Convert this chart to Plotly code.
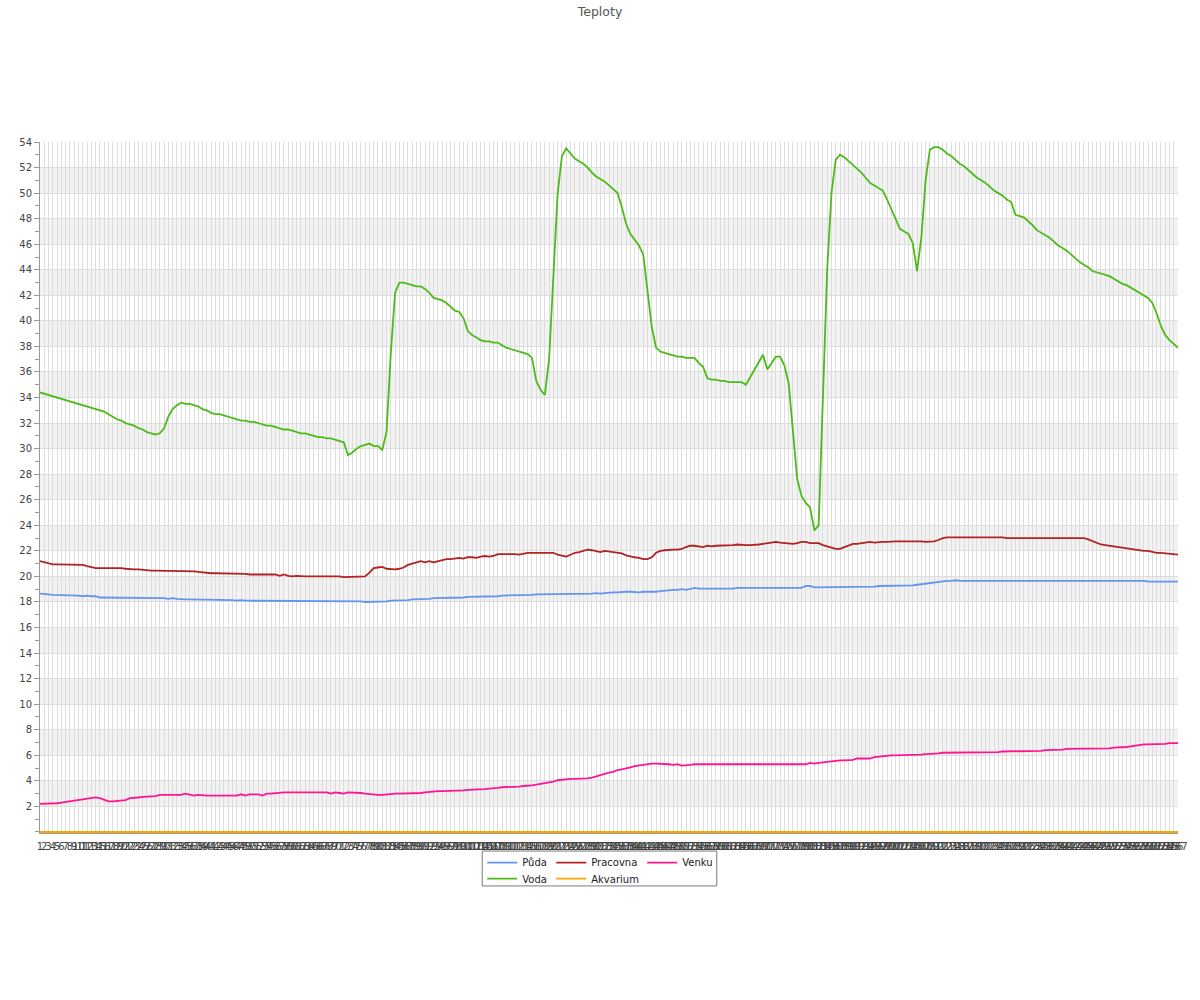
import plotly.graph_objects as go

# ---------------- data ----------------
labels = [str(n) for n in range(1, 268)]

puda = [
    18.65, 18.65, 18.6, 18.55, 18.55, 18.55, 18.55, 18.55, 18.55, 18.5,
    18.45, 18.5, 18.45, 18.45, 18.35, 18.35, 18.35, 18.35, 18.35, 18.35,
    18.35, 18.35, 18.35, 18.35, 18.35, 18.35, 18.3, 18.3, 18.3, 18.3,
    18.25, 18.3, 18.25, 18.2, 18.2, 18.2, 18.2, 18.2, 18.2, 18.2,
    18.2, 18.2, 18.2, 18.15, 18.15, 18.15, 18.1, 18.15, 18.1, 18.1,
    18.1, 18.1, 18.1, 18.05, 18.05, 18.05, 18.05, 18.05, 18.05, 18.05,
    18.05, 18.05, 18.05, 18.05, 18.05, 18.05, 18.05, 18.05, 18.05, 18.05,
    18.05, 18.05, 18.05, 18.05, 18.05, 18.05, 18.0, 18.0, 18.05, 18.05,
    18.05, 18.05, 18.1, 18.1, 18.1, 18.15, 18.15, 18.2, 18.2, 18.2,
    18.25, 18.25, 18.3, 18.3, 18.3, 18.3, 18.35, 18.35, 18.35, 18.35,
    18.4, 18.4, 18.4, 18.4, 18.45, 18.45, 18.45, 18.45, 18.5, 18.5,
    18.5, 18.5, 18.5, 18.55, 18.55, 18.55, 18.6, 18.6, 18.6, 18.6,
    18.65, 18.65, 18.65, 18.65, 18.65, 18.65, 18.65, 18.65, 18.65, 18.65,
    18.7, 18.65, 18.7, 18.75, 18.75, 18.75, 18.8, 18.8, 18.8, 18.75,
    18.75, 18.8, 18.8, 18.75, 18.8, 18.85, 18.9, 18.9, 18.95, 18.95,
    19.0, 18.95, 19.05, 19.1, 19.05, 19.05, 19.05, 19.05, 19.0, 19.05,
    19.0, 19.0, 19.05, 19.1, 19.1, 19.05, 19.05, 19.1, 19.1, 19.05,
    19.1, 19.1, 19.1, 19.1, 19.05, 19.05, 19.05, 19.05, 19.1, 19.25,
    19.25, 19.15, 19.15, 19.15, 19.15, 19.15, 19.15, 19.15, 19.15, 19.15,
    19.15, 19.2, 19.2, 19.2, 19.2, 19.2, 19.25, 19.25, 19.3, 19.3,
    19.3, 19.3, 19.3, 19.3, 19.3, 19.35, 19.4, 19.45, 19.5, 19.55,
    19.6, 19.65, 19.65, 19.65, 19.7, 19.65, 19.65, 19.65, 19.65, 19.65,
    19.65, 19.65, 19.65, 19.65, 19.65, 19.65, 19.65, 19.65, 19.65, 19.65,
    19.65, 19.65, 19.65, 19.65, 19.65, 19.65, 19.65, 19.65, 19.65, 19.65,
    19.65, 19.65, 19.7, 19.7, 19.7, 19.7, 19.7, 19.7, 19.7, 19.7,
    19.7, 19.7, 19.65, 19.65, 19.65, 19.65, 19.65, 19.65, 19.65, 19.6,
    19.6, 19.6, 19.6, 19.6, 19.6, 19.6, 19.6,
]

voda = [
    34.4, 34.3, 34.2, 34.1, 34.0, 33.9, 33.8, 33.7, 33.6, 33.5,
    33.4, 33.3, 33.2, 33.1, 33.0, 32.9, 32.7, 32.5, 32.3, 32.2,
    32.0, 31.9, 31.8, 31.6, 31.5, 31.3, 31.2, 31.1, 31.2, 31.6,
    32.5, 33.1, 33.4, 33.6, 33.5, 33.5, 33.4, 33.3, 33.1, 33.0,
    32.8, 32.7, 32.7, 32.6, 32.5, 32.4, 32.3, 32.2, 32.2, 32.1,
    32.1, 32.0, 31.9, 31.8, 31.8, 31.7, 31.6, 31.5, 31.5, 31.4,
    31.3, 31.2, 31.2, 31.1, 31.0, 30.9, 30.9, 30.8, 30.8, 30.7,
    30.6, 30.5, 29.5, 29.7, 30.0, 30.2, 30.3, 30.4, 30.2, 30.2,
    29.9, 31.3, 37.5, 42.2, 43.0, 43.0, 42.9, 42.8, 42.7, 42.7,
    42.5, 42.2, 41.8, 41.7, 41.6, 41.4, 41.1, 40.8, 40.7, 40.2,
    39.2, 38.9, 38.7, 38.5, 38.4, 38.4, 38.3, 38.3, 38.1, 37.9,
    37.8, 37.7, 37.6, 37.5, 37.4, 37.1, 35.3, 34.6, 34.2, 37.0,
    44.0, 50.0, 52.9, 53.5, 53.1, 52.7, 52.5, 52.3, 52.0, 51.6,
    51.3, 51.1, 50.9, 50.6, 50.3, 50.0, 48.9, 47.6, 46.8, 46.3,
    45.9, 45.2, 42.5, 39.5, 37.9, 37.6, 37.5, 37.4, 37.3, 37.2,
    37.2, 37.1, 37.1, 37.1, 36.7, 36.4, 35.5, 35.4, 35.4, 35.3,
    35.3, 35.2, 35.2, 35.2, 35.2, 35.0, 35.6, 36.1, 36.7, 37.35,
    36.2, 36.7, 37.2, 37.2, 36.5, 35.1, 31.5, 27.6, 26.3, 25.75,
    25.4, 23.6, 24.0, 34.1, 44.0, 50.0, 52.6, 53.0, 52.8, 52.5,
    52.2, 51.9, 51.6, 51.2, 50.8, 50.6, 50.4, 50.2, 49.5, 48.7,
    47.9, 47.2, 47.0, 46.8, 46.1, 43.9, 46.5, 51.0, 53.4, 53.6,
    53.6, 53.4, 53.1, 52.9, 52.6, 52.3, 52.1, 51.8, 51.5, 51.2,
    51.0, 50.8, 50.5, 50.2, 50.0, 49.8, 49.5, 49.3, 48.3, 48.2,
    48.1, 47.8, 47.5, 47.1, 46.9, 46.7, 46.5, 46.2, 45.9, 45.7,
    45.5, 45.2, 44.9, 44.6, 44.4, 44.2, 43.9, 43.8, 43.7, 43.6,
    43.5, 43.3, 43.1, 42.9, 42.8, 42.6, 42.4, 42.2, 42.0, 41.8,
    41.4, 40.6, 39.6, 38.9, 38.5, 38.2, 37.9,
]

pracovna = [
    21.2, 21.1, 21.0, 20.95, 20.95, 20.95, 20.95, 20.9, 20.9, 20.9,
    20.9, 20.8, 20.7, 20.65, 20.65, 20.65, 20.7, 20.7, 20.7, 20.65,
    20.6, 20.55, 20.55, 20.55, 20.5, 20.45, 20.45, 20.45, 20.45, 20.45,
    20.45, 20.45, 20.4, 20.4, 20.4, 20.4, 20.4, 20.35, 20.3, 20.25,
    20.25, 20.25, 20.25, 20.25, 20.25, 20.25, 20.25, 20.25, 20.2, 20.15,
    20.15, 20.15, 20.15, 20.15, 20.1, 20.15, 20.05, 20.15, 20.05, 20.0,
    20.05, 20.0, 20.0, 20.0, 20.0, 20.05, 20.0, 20.0, 20.0, 20.0,
    20.0, 19.95, 19.95, 19.95, 19.95, 19.95, 20.0, 20.3, 20.65, 20.7,
    20.75, 20.6, 20.55, 20.55, 20.6, 20.7, 20.9, 21.0, 21.1, 21.2,
    21.1, 21.2, 21.1, 21.2, 21.3, 21.35, 21.35, 21.4, 21.45, 21.4,
    21.5, 21.5, 21.45, 21.55, 21.6, 21.55, 21.6, 21.75, 21.75, 21.75,
    21.8, 21.75, 21.7, 21.8, 21.85, 21.85, 21.85, 21.9, 21.9, 21.9,
    21.85, 21.7, 21.6, 21.55, 21.7, 21.85, 21.9, 22.0, 22.1, 22.05,
    21.95, 21.9, 22.0, 21.95, 21.9, 21.85, 21.8, 21.65, 21.55, 21.5,
    21.45, 21.35, 21.35, 21.5, 21.85, 22.0, 22.05, 22.1, 22.1, 22.1,
    22.15, 22.3, 22.4, 22.4, 22.35, 22.3, 22.4, 22.35, 22.4, 22.4,
    22.4, 22.45, 22.45, 22.5, 22.45, 22.45, 22.45, 22.45, 22.5, 22.55,
    22.6, 22.65, 22.7, 22.65, 22.6, 22.55, 22.55, 22.6, 22.7, 22.7,
    22.6, 22.6, 22.6, 22.45, 22.35, 22.2, 22.15, 22.15, 22.3, 22.45,
    22.55, 22.55, 22.6, 22.7, 22.7, 22.65, 22.7, 22.7, 22.7, 22.75,
    22.75, 22.75, 22.75, 22.75, 22.75, 22.8, 22.75, 22.7, 22.7, 22.75,
    22.85, 23.0, 23.05, 23.05, 23.05, 23.05, 23.05, 23.1, 23.1, 23.05,
    23.05, 23.05, 23.05, 23.05, 23.05, 23.05, 23.0, 23.0, 23.0, 23.05,
    23.05, 23.05, 23.05, 23.05, 23.05, 23.05, 23.05, 23.05, 23.05, 23.05,
    23.05, 23.05, 23.05, 23.05, 23.0, 22.9, 22.75, 22.6, 22.5, 22.45,
    22.4, 22.35, 22.3, 22.2, 22.15, 22.15, 22.1, 22.05, 22.0, 22.0,
    21.9, 21.85, 21.85, 21.8, 21.75, 21.7, 21.7,
]

akvarium = [
    0, 0, 0, 0, 0, 0, 0, 0, 0, 0,
    0, 0, 0, 0, 0, 0, 0, 0, 0, 0,
    0, 0, 0, 0, 0, 0, 0, 0, 0, 0,
    0, 0, 0, 0, 0, 0, 0, 0, 0, 0,
    0, 0, 0, 0, 0, 0, 0, 0, 0, 0,
    0, 0, 0, 0, 0, 0, 0, 0, 0, 0,
    0, 0, 0, 0, 0, 0, 0, 0, 0, 0,
    0, 0, 0, 0, 0, 0, 0, 0, 0, 0,
    0, 0, 0, 0, 0, 0, 0, 0, 0, 0,
    0, 0, 0, 0, 0, 0, 0, 0, 0, 0,
    0, 0, 0, 0, 0, 0, 0, 0, 0, 0,
    0, 0, 0, 0, 0, 0, 0, 0, 0, 0,
    0, 0, 0, 0, 0, 0, 0, 0, 0, 0,
    0, 0, 0, 0, 0, 0, 0, 0, 0, 0,
    0, 0, 0, 0, 0, 0, 0, 0, 0, 0,
    0, 0, 0, 0, 0, 0, 0, 0, 0, 0,
    0, 0, 0, 0, 0, 0, 0, 0, 0, 0,
    0, 0, 0, 0, 0, 0, 0, 0, 0, 0,
    0, 0, 0, 0, 0, 0, 0, 0, 0, 0,
    0, 0, 0, 0, 0, 0, 0, 0, 0, 0,
    0, 0, 0, 0, 0, 0, 0, 0, 0, 0,
    0, 0, 0, 0, 0, 0, 0, 0, 0, 0,
    0, 0, 0, 0, 0, 0, 0, 0, 0, 0,
    0, 0, 0, 0, 0, 0, 0, 0, 0, 0,
    0, 0, 0, 0, 0, 0, 0, 0, 0, 0,
    0, 0, 0, 0, 0, 0, 0, 0, 0, 0,
    0, 0, 0, 0, 0, 0, 0,
]

venku = [
    2.2, 2.2, 2.2, 2.2, 2.25, 2.3, 2.35, 2.4, 2.45, 2.55,
    2.6, 2.65, 2.7, 2.7, 2.65, 2.5, 2.4, 2.4, 2.45, 2.5,
    2.5, 2.65, 2.65, 2.7, 2.75, 2.75, 2.8, 2.8, 2.9, 2.9,
    2.9, 2.9, 2.9, 2.9, 3.0, 2.95, 2.85, 2.9, 2.85, 2.85,
    2.85, 2.85, 2.85, 2.85, 2.85, 2.85, 2.85, 2.95, 2.85, 2.95,
    2.95, 2.95, 2.85, 3.0, 3.0, 3.05, 3.05, 3.1, 3.1, 3.1,
    3.1, 3.1, 3.15, 3.1, 3.1, 3.1, 3.1, 3.1, 3.0, 3.1,
    3.05, 3.0, 3.1, 3.1, 3.1, 3.05, 3.0, 2.95, 2.9, 2.9,
    2.9, 2.95, 3.0, 3.0, 3.0, 3.0, 3.0, 3.0, 3.0, 3.05,
    3.1, 3.15, 3.15, 3.2, 3.2, 3.2, 3.2, 3.2, 3.25, 3.25,
    3.3, 3.3, 3.3, 3.3, 3.35, 3.4, 3.4, 3.45, 3.5, 3.5,
    3.5, 3.55, 3.55, 3.6, 3.6, 3.65, 3.7, 3.75, 3.85, 3.9,
    3.95, 4.05, 4.1, 4.1, 4.15, 4.15, 4.15, 4.15, 4.2, 4.25,
    4.35, 4.5, 4.6, 4.65, 4.7, 4.85, 4.9, 4.95, 5.05, 5.15,
    5.2, 5.3, 5.3, 5.35, 5.35, 5.35, 5.3, 5.3, 5.25, 5.3,
    5.2, 5.2, 5.25, 5.3, 5.3, 5.3, 5.3, 5.3, 5.3, 5.3,
    5.3, 5.35, 5.35, 5.35, 5.3, 5.3, 5.3, 5.3, 5.3, 5.3,
    5.3, 5.3, 5.3, 5.3, 5.3, 5.3, 5.35, 5.3, 5.35, 5.3,
    5.4, 5.35, 5.4, 5.45, 5.5, 5.55, 5.6, 5.6, 5.6, 5.6,
    5.65, 5.75, 5.75, 5.7, 5.75, 5.85, 5.9, 5.95, 6.0, 6.0,
    6.0, 6.0, 6.0, 6.0, 6.0, 6.0, 6.05, 6.1, 6.1, 6.1,
    6.15, 6.2, 6.2, 6.25, 6.25, 6.25, 6.25, 6.25, 6.25, 6.25,
    6.25, 6.25, 6.25, 6.25, 6.25, 6.3, 6.3, 6.3, 6.3, 6.3,
    6.3, 6.3, 6.35, 6.35, 6.35, 6.4, 6.4, 6.45, 6.45, 6.45,
    6.5, 6.5, 6.55, 6.5, 6.55, 6.55, 6.55, 6.55, 6.55, 6.55,
    6.55, 6.6, 6.6, 6.65, 6.65, 6.7, 6.75, 6.85, 6.85, 6.85,
    6.85, 6.85, 6.9, 6.9, 6.95, 6.95, 6.95,
]

y_tick_values = [2, 4, 6, 8, 10, 12, 14, 16, 18, 20, 22, 24, 26,
                 28, 30, 32, 34, 36, 38, 40, 42, 44, 46, 48, 50, 52, 54]
band_starts = [2, 6, 10, 14, 18, 22, 26, 30, 34, 38, 42, 46, 50]

# ---------------- figure ----------------
series = [
    ("Půda", puda, "#6495ED", "legend", 24),
    ("Voda", voda, "#4CBB17", "legend2", 24),
    ("Pracovna", pracovna, "#B22222", "legend", 46),
    ("Akvarium", akvarium, "#FFA500", "legend2", 46),
    ("Venku", venku, "#FF1493", "legend", 32),
]

fig = go.Figure()
for name, vals, color, leg, lw in series:
    fig.add_trace(go.Scatter(
        x=labels[:len(vals)], y=vals, name=name, mode="lines",
        line=dict(color=color, width=1.8),
        legend=leg, legendwidth=lw, cliponaxis=False,
    ))

for b in band_starts:
    fig.add_shape(type="rect", xref="paper", x0=0, x1=1, yref="y",
                  y0=b, y1=b + 2, fillcolor="#f2f2f2",
                  line=dict(width=0), layer="below")

# legend border
fig.add_shape(type="rect", xref="paper", yref="paper",
              x0=0.3886, x1=0.5947, y0=-0.0766, y1=-0.0261,
              line=dict(color="#7a7a7a", width=1), fillcolor="rgba(0,0,0,0)",
              layer="above")

legend_common = dict(
    orientation="h", xanchor="left", yanchor="top",
    bgcolor="rgba(0,0,0,0)", borderwidth=0,
    font=dict(family="DejaVu Sans", size=10, color="#222"),
    itemclick=False, itemdoubleclick=False,
)

fig.update_layout(
    width=1200, height=1000,
    margin=dict(l=40, r=20, t=142, b=167, pad=0),
    paper_bgcolor="white", plot_bgcolor="white",
    font=dict(family="DejaVu Sans", size=10, color="#444"),
    title=dict(text="Teploty", x=0.5, xanchor="center", xref="container",
               y=1, yref="container", yanchor="top", pad=dict(t=7),
               font=dict(size=12.5, color="#555")),
    xaxis=dict(type="category", range=[0, 266], tickmode="linear",
               tick0=0, dtick=1, tickangle=0, showgrid=True,
               gridcolor="#dddddd", gridwidth=1, showline=True,
               linecolor="#999", linewidth=1, ticks="outside", ticklen=4,
               tickcolor="rgba(0,0,0,0)", tickfont=dict(size=10, color="#444"),
               zeroline=False, fixedrange=True, layer="below traces"),
    yaxis=dict(range=[-0.08, 54], tickmode="array", tickvals=y_tick_values,
               ticks="outside", ticklen=5, tickcolor="#999", showgrid=True,
               gridcolor="#dddddd", gridwidth=1, showline=True,
               linecolor="#999", linewidth=1, zeroline=False,
               tickfont=dict(size=10, color="#444"), fixedrange=True,
               layer="below traces",
               minor=dict(tickmode="linear", tick0=0, dtick=1,
                          ticks="outside", ticklen=4, tickcolor="#999",
                          showgrid=False)),
    legend=dict(x=0.3886, y=-0.0218, **legend_common),
    legend2=dict(x=0.3886, y=-0.0450, **legend_common),
    showlegend=True,
)

fig.write_html("out.html", config={"displayModeBar": False},
               post_script="document.body.style.margin='0';")
